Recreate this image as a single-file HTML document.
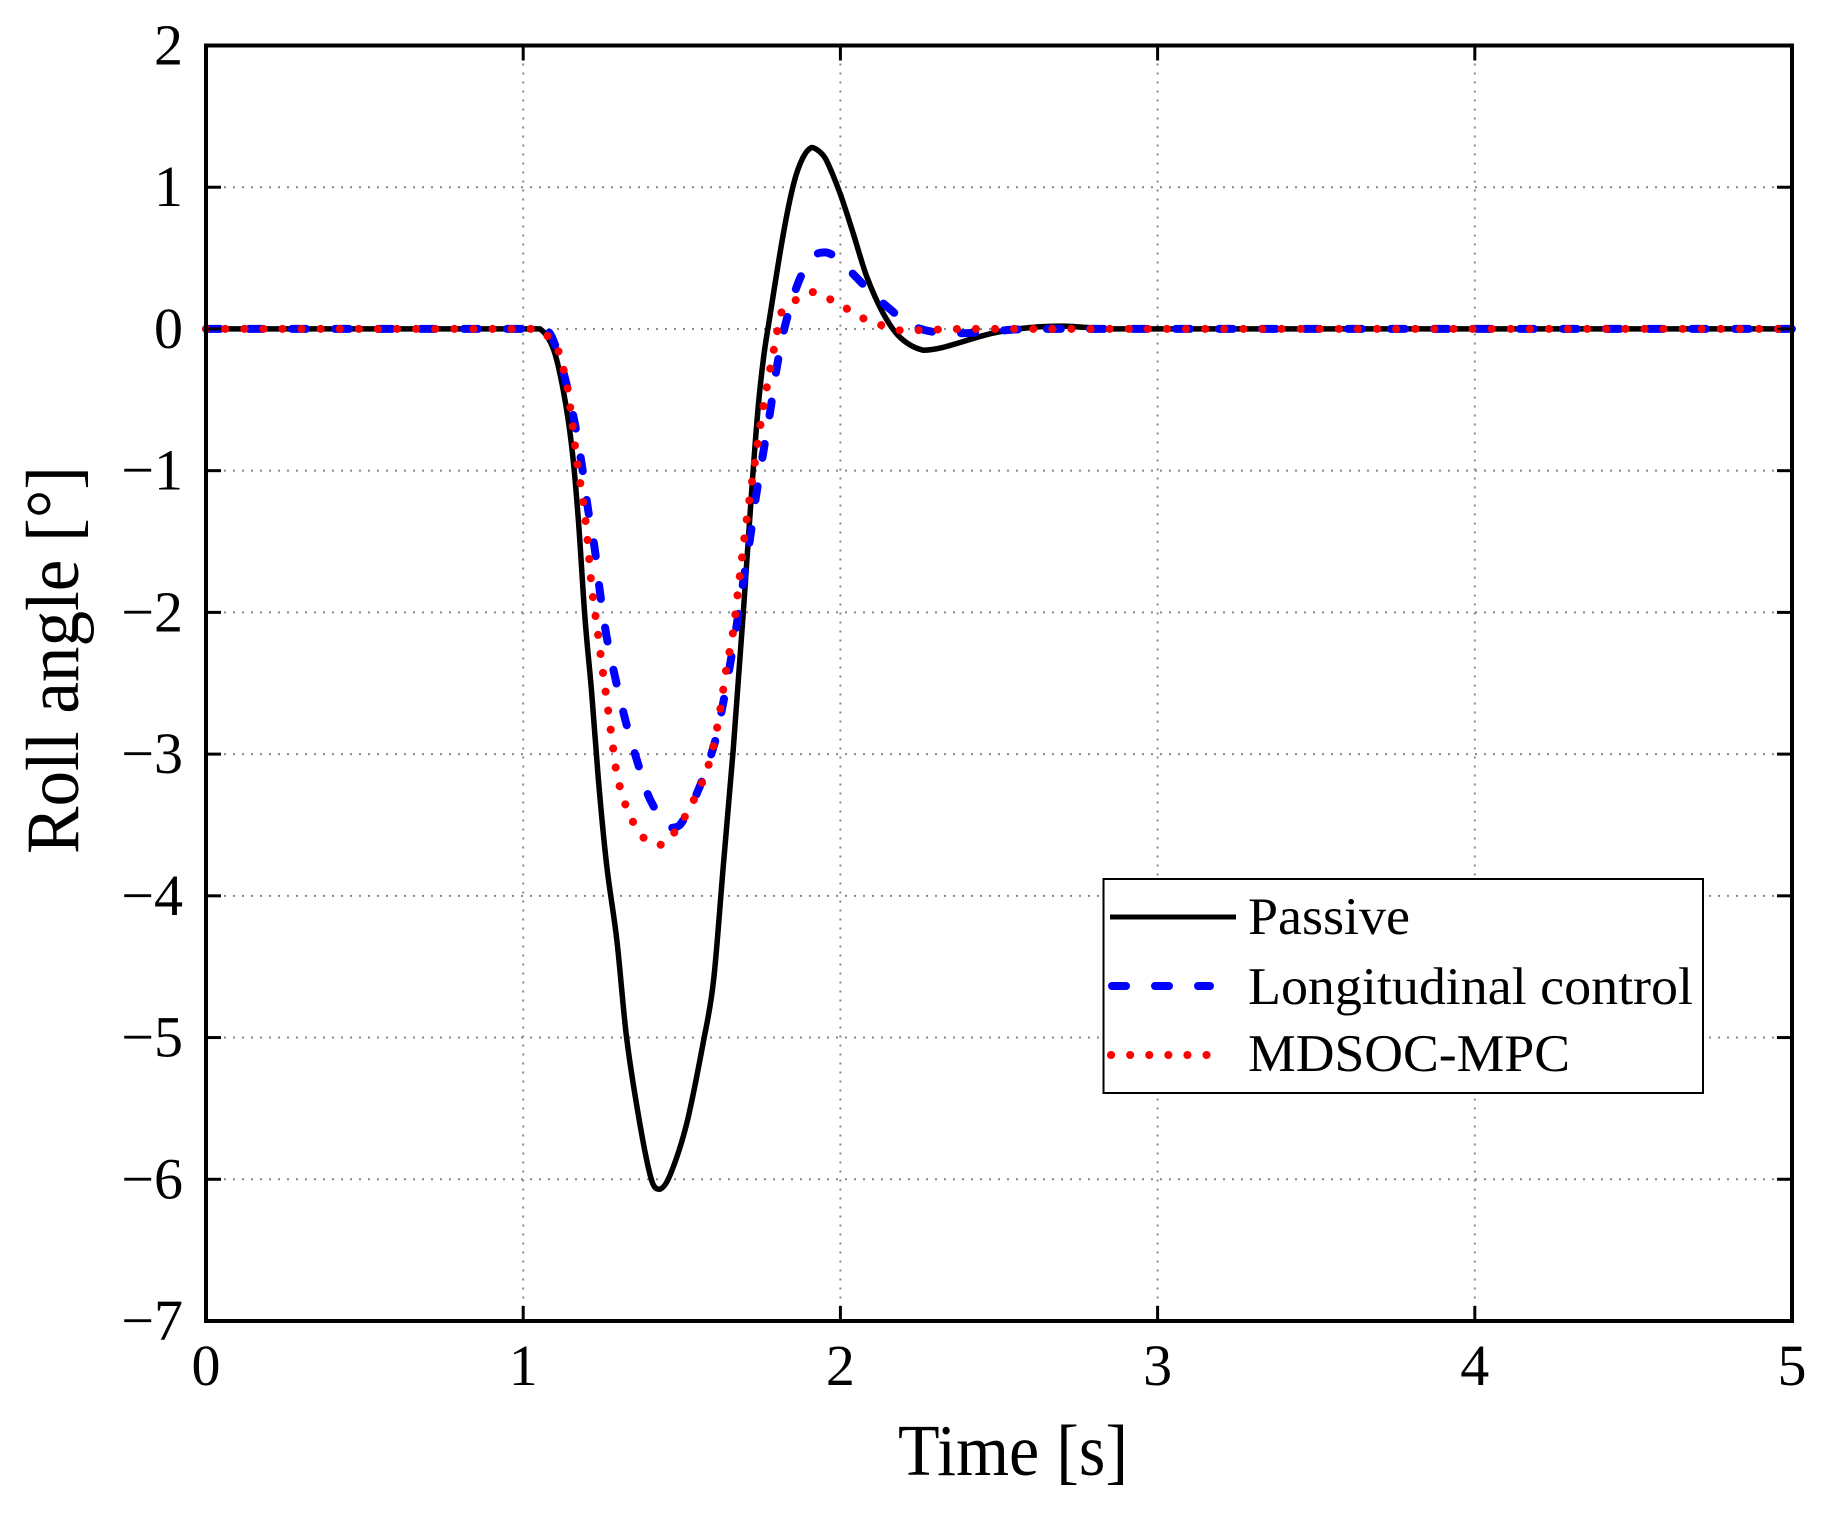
<!DOCTYPE html>
<html><head><meta charset="utf-8"><style>
html,body{margin:0;padding:0;background:#fff;}
svg{display:block;}
text{font-family:"Liberation Serif",serif;fill:#000;}
</style></head><body>
<svg id="chart" width="1831" height="1518" viewBox="0 0 1831 1518" xmlns="http://www.w3.org/2000/svg">
<g id="grid"></g>
<g id="series"></g>
<rect x="206" y="45.5" width="1586" height="1275.5" fill="none" stroke="#000" stroke-width="4"/>
<g id="ticks"></g>
<text x="1013" y="1475" font-size="73" text-anchor="middle" textLength="230" lengthAdjust="spacingAndGlyphs">Time [s]</text>
<text transform="translate(78,660) rotate(-90)" font-size="75" text-anchor="middle" textLength="388" lengthAdjust="spacingAndGlyphs">Roll angle [°]</text>
<g>
<rect x="1103.5" y="879" width="599.5" height="214" fill="#fff" stroke="#000" stroke-width="2"/>
<line x1="1110" y1="917" x2="1236" y2="917" stroke="#000" stroke-width="5"/>
<text x="1248" y="934" font-size="53" textLength="162" lengthAdjust="spacingAndGlyphs">Passive</text>
<line x1="1112" y1="986" x2="1210" y2="986" stroke="#0000ff" stroke-width="8" stroke-linecap="round" stroke-dasharray="14 29"/>
<text x="1248" y="1004" font-size="53" textLength="445" lengthAdjust="spacingAndGlyphs">Longitudinal control</text>
<line x1="1111" y1="1055" x2="1225" y2="1055" stroke="#ff0000" stroke-width="8" stroke-linecap="round" stroke-dasharray="0.1 19"/>
<text x="1248" y="1071" font-size="53" textLength="322" lengthAdjust="spacingAndGlyphs">MDSOC-MPC</text>
</g>
</svg>
<script>
const xTicks = [0,1,2,3,4,5];
const yTicks = [2,1,0,-1,-2,-3,-4,-5,-6,-7];
const passiveT = [0,1.0,1.053,1.095,1.126,1.153,1.174,1.195,1.216,1.237,1.263,1.295,1.326,1.368,1.405,1.431,1.463,1.515,1.567,1.6,1.631,1.662,1.694,1.72,1.741,1.758,1.775,1.82,1.852,1.88,1.909,1.935,1.956,2.0,2.041,2.083,2.135,2.188,2.26,2.323,2.48,2.6,2.7,2.85,3.0,5];
const passiveV = [0,0,0,-0.14,-0.43,-0.83,-1.35,-2.05,-2.57,-3.18,-3.78,-4.31,-5.0,-5.61,-6.01,-6.07,-5.97,-5.61,-5.04,-4.6,-3.78,-2.97,-2.0,-1.15,-0.55,-0.2,0.05,0.67,1.02,1.2,1.28,1.25,1.19,0.95,0.67,0.37,0.11,-0.06,-0.15,-0.13,-0.03,0.01,0.02,0.0,0,0];
const longT = [0,1.0,1.08,1.126,1.163,1.184,1.205,1.226,1.242,1.263,1.289,1.321,1.358,1.4,1.463,1.494,1.547,1.6,1.626,1.652,1.673,1.694,1.715,1.736,1.757,1.778,1.799,1.824,1.866,1.909,1.951,1.99,2.03,2.125,2.24,2.377,2.6,5];
const longV = [0,0,-0.02,-0.3,-0.67,-0.95,-1.28,-1.56,-1.86,-2.17,-2.45,-2.75,-3.04,-3.32,-3.52,-3.5,-3.28,-2.95,-2.69,-2.37,-2.09,-1.78,-1.48,-1.15,-0.87,-0.59,-0.28,0.01,0.32,0.5,0.54,0.5,0.41,0.2,0.01,-0.03,0,0];
const mpcT = [0,1.04,1.106,1.121,1.137,1.153,1.168,1.184,1.2,1.216,1.232,1.247,1.263,1.279,1.295,1.326,1.352,1.389,1.44,1.484,1.515,1.568,1.589,1.615,1.641,1.662,1.684,1.705,1.731,1.757,1.799,1.81,1.857,1.915,1.967,2.015,2.067,2.125,2.19,2.4,5];
const mpcV = [0,0,-0.13,-0.24,-0.38,-0.63,-0.91,-1.15,-1.42,-1.82,-2.09,-2.35,-2.61,-2.88,-3.14,-3.38,-3.5,-3.61,-3.64,-3.53,-3.42,-3.18,-3.04,-2.77,-2.39,-2.13,-1.72,-1.34,-0.93,-0.55,-0.04,0.1,0.2,0.26,0.21,0.15,0.08,0.03,-0.01,0,0];

const NS = 'http://www.w3.org/2000/svg';
const X0 = 206, X1 = 1792, Y0 = 45.5, Y1 = 1321;
function xs(t){ return X0 + (t - 0) / 5 * (X1 - X0); }
function ys(v){ return Y0 + (2 - v) / 9 * (Y1 - Y0); }
const grid = document.getElementById('grid');
const ticks = document.getElementById('ticks');
const series = document.getElementById('series');
function mk(tag, attrs, parent){ const e = document.createElementNS(NS, tag); for (const k in attrs) e.setAttribute(k, attrs[k]); parent.appendChild(e); return e; }

xTicks.forEach(t => {
  const x = xs(t);
  if (t > 0 && t < 5) {
    const g = mk('line', {x1:x, y1:Y0, x2:x, y2:Y1, stroke:'#888', 'stroke-width':2, 'stroke-dasharray':'2 7'}, grid);
    
    
  }
  const a = mk('line', {x1:x, y1:Y1, x2:x, y2:Y1-15, stroke:'#000', 'stroke-width':3}, ticks);
  
  
  const b = mk('line', {x1:x, y1:Y0, x2:x, y2:Y0+15, stroke:'#000', 'stroke-width':3}, ticks);
  
  
  const l = mk('text', {x:x, y:1385, 'font-size':58, 'text-anchor':'middle'}, ticks);
  l.textContent = String(t);
  
  
});
yTicks.forEach(v => {
  const y = ys(v);
  if (v < 2 && v > -7) {
    const g = mk('line', {x1:X0, y1:y, x2:X1, y2:y, stroke:'#888', 'stroke-width':2, 'stroke-dasharray':'2 7'}, grid);
    
    
  }
  const a = mk('line', {x1:X0, y1:y, x2:X0+15, y2:y, stroke:'#000', 'stroke-width':3}, ticks);
  
  
  const b = mk('line', {x1:X1, y1:y, x2:X1-15, y2:y, stroke:'#000', 'stroke-width':3}, ticks);
  
  
  const l = mk('text', {x:183, y:y+19, 'font-size':58, 'text-anchor':'end'}, ticks);
  l.textContent = v < 0 ? '\u2212' + Math.abs(v) : String(v);
  
  
});
function clamp(v, a, b){ const lo = Math.min(a,b), hi = Math.max(a,b); return Math.max(lo, Math.min(hi, v)); }
function smooth(T, V){
  const P = T.map((t,i) => [xs(t), ys(V[i])]);
  let d = 'M' + P[0][0].toFixed(1) + ',' + P[0][1].toFixed(1);
  for (let i = 0; i < P.length - 1; i++) {
    const p0 = P[Math.max(i-1,0)], p1 = P[i], p2 = P[i+1], p3 = P[Math.min(i+2,P.length-1)];
    const dx = p2[0] - p1[0];
    const c1 = [p1[0] + dx/3, clamp(p1[1] + (p2[1]-p0[1])/(p2[0]-p0[0]) * dx/3, p1[1], p2[1])];
    const c2 = [p2[0] - dx/3, clamp(p2[1] - (p3[1]-p1[1])/(p3[0]-p1[0]) * dx/3, p1[1], p2[1])];
    d += ' C' + c1[0].toFixed(1) + ',' + c1[1].toFixed(1) + ' ' + c2[0].toFixed(1) + ',' + c2[1].toFixed(1) + ' ' + p2[0].toFixed(1) + ',' + p2[1].toFixed(1);
  }
  return d;
}
const p1 = mk('path', {d:smooth(passiveT, passiveV), fill:'none', stroke:'#000', 'stroke-width':5.5, 'stroke-linejoin':'round'}, series);


const p2 = mk('path', {d:smooth(longT, longV), fill:'none', stroke:'#0000ff', 'stroke-width':8, 'stroke-linecap':'round', 'stroke-linejoin':'round', 'stroke-dasharray':'14 29'}, series);


const p3 = mk('path', {d:smooth(mpcT, mpcV), fill:'none', stroke:'#ff0000', 'stroke-width':8, 'stroke-linecap':'round', 'stroke-linejoin':'round', 'stroke-dasharray':'0.1 19'}, series);


</script>
</body></html>
